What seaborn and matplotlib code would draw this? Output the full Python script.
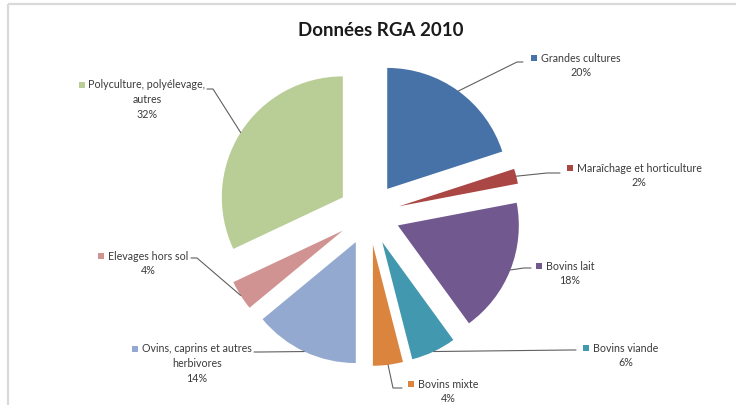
import matplotlib
matplotlib.use("Agg")
import numpy as np
import matplotlib.pyplot as plt
from matplotlib.patches import Rectangle
import seaborn as sns

# --- data -------------------------------------------------------------
title = "Données RGA 2010"
categories = [
    "Grandes cultures",
    "Maraîchage et horticulture",
    "Bovins lait",
    "Bovins viande",
    "Bovins mixte",
    "Ovins, caprins et autres herbivores",
    "Elevages hors sol",
    "Polyculture, polyélevage, autres",
]
label_lines = [
    ["Grandes cultures"],
    ["Maraîchage et horticulture"],
    ["Bovins lait"],
    ["Bovins viande"],
    ["Bovins mixte"],
    ["Ovins, caprins et autres", "herbivores"],
    ["Elevages hors sol"],
    ["Polyculture, polyélevage,", "autres"],
]
shares = [20, 2, 18, 6, 4, 14, 4, 32]
colors = ["#4672A8", "#AA4643", "#71588F", "#4198AF",
          "#DB843D", "#93A9CF", "#D19392", "#B9CD96"]

# --- layout (pixel space, y measured from the top) ----------------------
W, H = 736, 405
pie_center = (369, 214)
pie_radius = 121
gap = 31
# text centre x, first line y
label_pos = [
    (581, 58), (639, 168), (570, 266), (626, 348),
    (448, 384), (197, 349), (148, 256), (147, 85),
]
# leader elbow and end points
leader_pts = [
    [(517, 62), (523, 62)],
    [(547, 173), (560, 173)],
    [(524, 268), (531, 268)],
    [(570, 350), (576, 350)],
    [(393, 388), (402, 388)],
    [(260, 352), (254, 352)],
    [(197, 258), (191, 258)],
    [(213, 89), (207, 89)],
]
line_step = 14.5

sns.set_theme(style="white")
plt.rcParams["font.family"] = ["Lato", "DejaVu Sans"]

fig = plt.figure(figsize=(W / 100, H / 100), dpi=100)
ax = fig.add_axes([0, 0, 1, 1])

wedges, _ = ax.pie(
    shares,
    colors=colors,
    startangle=90,
    counterclock=False,
    center=(pie_center[0], H - pie_center[1]),
    radius=pie_radius,
    explode=[gap] * len(shares),
    wedgeprops=dict(linewidth=0),
)
ax.set_xlim(0, W)
ax.set_ylim(0, H)
ax.set_aspect("equal")
ax.axis("off")

# chart area border (top and left edges)
ax.plot([8, 8], [H - 4, 0], color="#d9d9d9", lw=1.6, solid_capstyle="butt")
ax.plot([8, W], [H - 4, H - 4], color="#d9d9d9", lw=1.6, solid_capstyle="butt")

ax.text(381, H - 30, title, ha="center", va="center",
        fontsize=13.5, fontweight="bold", color="#1a1a1a")

txt_color = "#3a3a3a"
renderer = fig.canvas.get_renderer()
for w, lines, share, (cx, y0), pts, col in zip(
        wedges, label_lines, shares, label_pos, leader_pts, colors):
    # leader line from the middle of the wedge's arc
    tm = np.deg2rad(0.5 * (w.theta1 + w.theta2))
    ax_x = w.center[0] + w.r * np.cos(tm)
    ax_y = w.center[1] + w.r * np.sin(tm)
    xs = [ax_x] + [p[0] for p in pts]
    ys = [ax_y] + [H - p[1] for p in pts]
    ax.plot(xs, ys, color="#606060", lw=0.8)

    all_lines = lines + [f"{share}%"]
    first = None
    for i, s in enumerate(all_lines):
        t = ax.text(cx, H - (y0 + i * line_step), s, ha="center", va="center",
                    fontsize=7.7, color=txt_color)
        if i == 0:
            first = t
    bb = first.get_window_extent(renderer)
    sq = 6
    ax.add_patch(Rectangle((bb.x0 - sq - 4, H - y0 - sq / 2), sq, sq,
                           facecolor=col, edgecolor="none"))

fig.savefig("out.png", dpi=100)
